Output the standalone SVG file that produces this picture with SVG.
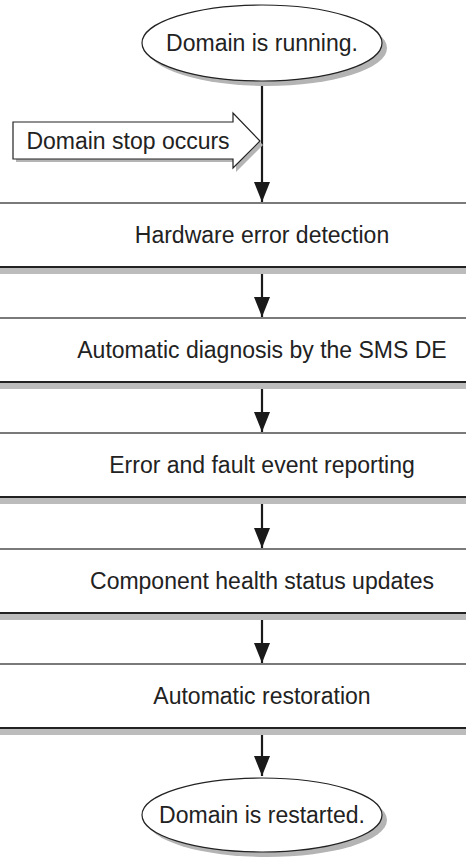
<svg xmlns="http://www.w3.org/2000/svg" width="466" height="858" viewBox="0 0 466 858">
<defs>
<style>
text{font-family:"Liberation Sans",Arial,sans-serif;font-size:23px;fill:#222;text-anchor:middle}
.sh{fill:#b4b4b4}
.box{fill:#fff;stroke:none}
.top{stroke:#7a7a7a;stroke-width:2}
.bot{stroke:#222;stroke-width:2}
.band{fill:#bcbcbc}
.ell{fill:#fff;stroke:#222;stroke-width:1.2}
.conn{stroke:#1a1a1a;stroke-width:2.2;fill:none}
</style>
<marker id="ah" viewBox="0 0 20 16" refX="20" refY="8" markerWidth="20" markerHeight="16" markerUnits="userSpaceOnUse" orient="auto">
<path d="M0,0 L20,8 L0,16 Z" fill="#1a1a1a"/>
</marker>
</defs>
<g id="connectors">
<line class="conn" x1="262" y1="82" x2="262" y2="202" marker-end="url(#ah)"/>
<line class="conn" x1="262" y1="267" x2="262" y2="317" marker-end="url(#ah)"/>
<line class="conn" x1="262" y1="382" x2="262" y2="432" marker-end="url(#ah)"/>
<line class="conn" x1="262" y1="497" x2="262" y2="548" marker-end="url(#ah)"/>
<line class="conn" x1="262" y1="613" x2="262" y2="663" marker-end="url(#ah)"/>
<line class="conn" x1="262" y1="728" x2="262" y2="776" marker-end="url(#ah)"/>
</g>
<g id="start">
<ellipse class="sh" cx="267" cy="48" rx="120" ry="38"/>
<ellipse class="ell" cx="262" cy="43" rx="120" ry="38"/>
<text x="262" y="51">Domain is running.</text>
</g>
<g id="stop">
<path class="sh" d="M16,126 H236 V117 L263,145 L236,172 V162 H16 Z"/>
<path d="M13,122 H233 V113 L260,141 L233,168 V159 H13 Z" fill="#fff" stroke="#222" stroke-width="1.2"/>
<text x="128" y="149">Domain stop occurs</text>
</g>
<g id="box1">
<rect class="band" x="0" y="267" width="466" height="7"/>
<rect class="box" x="0" y="203" width="466" height="64"/>
<line class="top" x1="0" y1="203" x2="466" y2="203"/>
<line class="bot" x1="0" y1="267" x2="466" y2="267"/>
<text x="262" y="243">Hardware error detection</text>
</g>
<g id="box2">
<rect class="band" x="0" y="382" width="466" height="7"/>
<rect class="box" x="0" y="318" width="466" height="64"/>
<line class="top" x1="0" y1="318" x2="466" y2="318"/>
<line class="bot" x1="0" y1="382" x2="466" y2="382"/>
<text x="262" y="358">Automatic diagnosis by the SMS DE</text>
</g>
<g id="box3">
<rect class="band" x="0" y="497" width="466" height="7"/>
<rect class="box" x="0" y="433" width="466" height="64"/>
<line class="top" x1="0" y1="433" x2="466" y2="433"/>
<line class="bot" x1="0" y1="497" x2="466" y2="497"/>
<text x="262" y="473">Error and fault event reporting</text>
</g>
<g id="box4">
<rect class="band" x="0" y="613" width="466" height="7"/>
<rect class="box" x="0" y="549" width="466" height="64"/>
<line class="top" x1="0" y1="549" x2="466" y2="549"/>
<line class="bot" x1="0" y1="613" x2="466" y2="613"/>
<text x="262" y="589">Component health status updates</text>
</g>
<g id="box5">
<rect class="band" x="0" y="728" width="466" height="7"/>
<rect class="box" x="0" y="664" width="466" height="64"/>
<line class="top" x1="0" y1="664" x2="466" y2="664"/>
<line class="bot" x1="0" y1="728" x2="466" y2="728"/>
<text x="262" y="704">Automatic restoration</text>
</g>
<g id="end">
<ellipse class="sh" cx="267" cy="820" rx="120" ry="37"/>
<ellipse class="ell" cx="262" cy="815" rx="120" ry="37"/>
<text x="262" y="823">Domain is restarted.</text>
</g>
</svg>
